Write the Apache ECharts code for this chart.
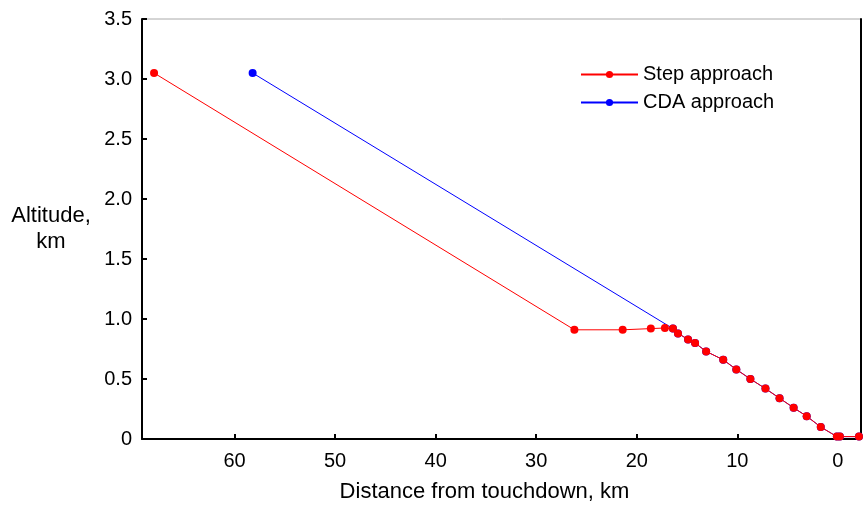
<!DOCTYPE html>
<html>
<head>
<meta charset="utf-8">
<script src="https://cdn.jsdelivr.net/npm/echarts@6/dist/echarts.min.js"></script>
<style>
html,body{margin:0;padding:0;background:#fff;}
#chart{width:867px;height:508px;}
</style>
</head>
<body>
<div id="chart"></div>
<script>
// Data
const stepDist = [68.0, 26.2, 21.4, 18.6, 17.2, 16.4, 15.9, 14.9, 14.2, 13.1, 11.4, 10.1, 8.7, 7.2, 5.8, 4.4, 3.1, 1.7, 0.1, -0.2, -2.1];
const stepAlt  = [3.05, 0.91, 0.91, 0.92, 0.925, 0.92, 0.88, 0.83, 0.80, 0.73, 0.66, 0.58, 0.50, 0.42, 0.34, 0.26, 0.19, 0.10, 0.02, 0.02, 0.02];
const cdaDist  = [58.2, 16.4, 15.9, 14.9, 14.2, 13.1, 11.4, 10.1, 8.7, 7.2, 5.8, 4.4, 3.1, 1.7, 0.1, -0.2, -2.1];
const cdaAlt   = [3.05, 0.92, 0.88, 0.83, 0.80, 0.73, 0.66, 0.58, 0.50, 0.42, 0.34, 0.26, 0.19, 0.10, 0.02, 0.02, 0.02];
const xTicks = [0, 10, 20, 30, 40, 50, 60];
const seriesNames = ['Step approach', 'CDA approach'];

const pairs = (xs, ys) => xs.map((x, i) => [x, ys[i]]);
const font = 'Liberation Sans, Arial, sans-serif';

const chart = echarts.init(document.getElementById('chart'));
chart.setOption({
  animation: false,
  backgroundColor: '#fff',
  textStyle: { fontFamily: font, color: '#000' },
  grid: { left: 142, right: 6, top: 19, bottom: 66, show: true, borderColor: '#aaa', borderWidth: 1 },
  legend: {
    data: seriesNames,
    orient: 'vertical',
    left: 580,
    top: 64,
    padding: 0,
    itemWidth: 57,
    itemHeight: 9,
    itemGap: 7,
    textStyle: { fontFamily: font, fontSize: 20, color: '#000', lineHeight: 21 }
  },
  xAxis: {
    type: 'value',
    inverse: true,
    min: -2.3,
    max: 69.2,
    name: 'Distance from touchdown, km',
    nameLocation: 'middle',
    nameGap: 42,
    nameTextStyle: { fontFamily: font, fontSize: 22, color: '#000', padding: [0, 34, 0, 0] },
    axisLine: { show: true, onZero: false, lineStyle: { color: '#000', width: 2 } },
    axisTick: { show: true, inside: true, length: 5, lineStyle: { color: '#000', width: 2 }, customValues: xTicks },
    axisLabel: { fontFamily: font, fontSize: 20, color: '#000', margin: 12, customValues: xTicks },
    splitLine: { show: false }
  },
  yAxis: [{
    type: 'value',
    min: 0,
    max: 3.5,
    interval: 0.5,
    name: 'Altitude,\nkm',
    nameLocation: 'middle',
    nameRotate: 0,
    nameGap: 91,
    nameTextStyle: { fontFamily: font, fontSize: 22, color: '#000', align: 'center', verticalAlign: 'middle', lineHeight: 26 },
    axisLine: { show: true, onZero: false, lineStyle: { color: '#000', width: 2 } },
    axisTick: { show: true, inside: true, length: 5, lineStyle: { color: '#000', width: 2 } },
    axisLabel: { fontFamily: font, fontSize: 20, color: '#000', margin: 10,
      formatter: v => (v === 0 ? '0' : v.toFixed(1)) },
    splitLine: { show: false }
  }, {
    type: 'value',
    position: 'right',
    min: 0,
    max: 3.5,
    axisLine: { show: true, onZero: false, lineStyle: { color: '#000', width: 2 } },
    axisTick: { show: false },
    axisLabel: { show: false },
    splitLine: { show: false }
  }],
  series: [{
    name: 'CDA approach',
    type: 'line',
    data: pairs(cdaDist, cdaAlt),
    symbol: 'circle',
    symbolSize: 8,
    color: '#0000ff',
    lineStyle: { color: '#0000ff', width: 1 },
    itemStyle: { color: '#0000ff' },
    z: 2
  }, {
    name: 'Step approach',
    type: 'line',
    data: pairs(stepDist, stepAlt),
    symbol: 'circle',
    symbolSize: 8,
    color: '#ff0000',
    lineStyle: { color: '#ff0000', width: 1 },
    itemStyle: { color: '#ff0000' },
    z: 3
  }]
});
</script>
</body>
</html>
